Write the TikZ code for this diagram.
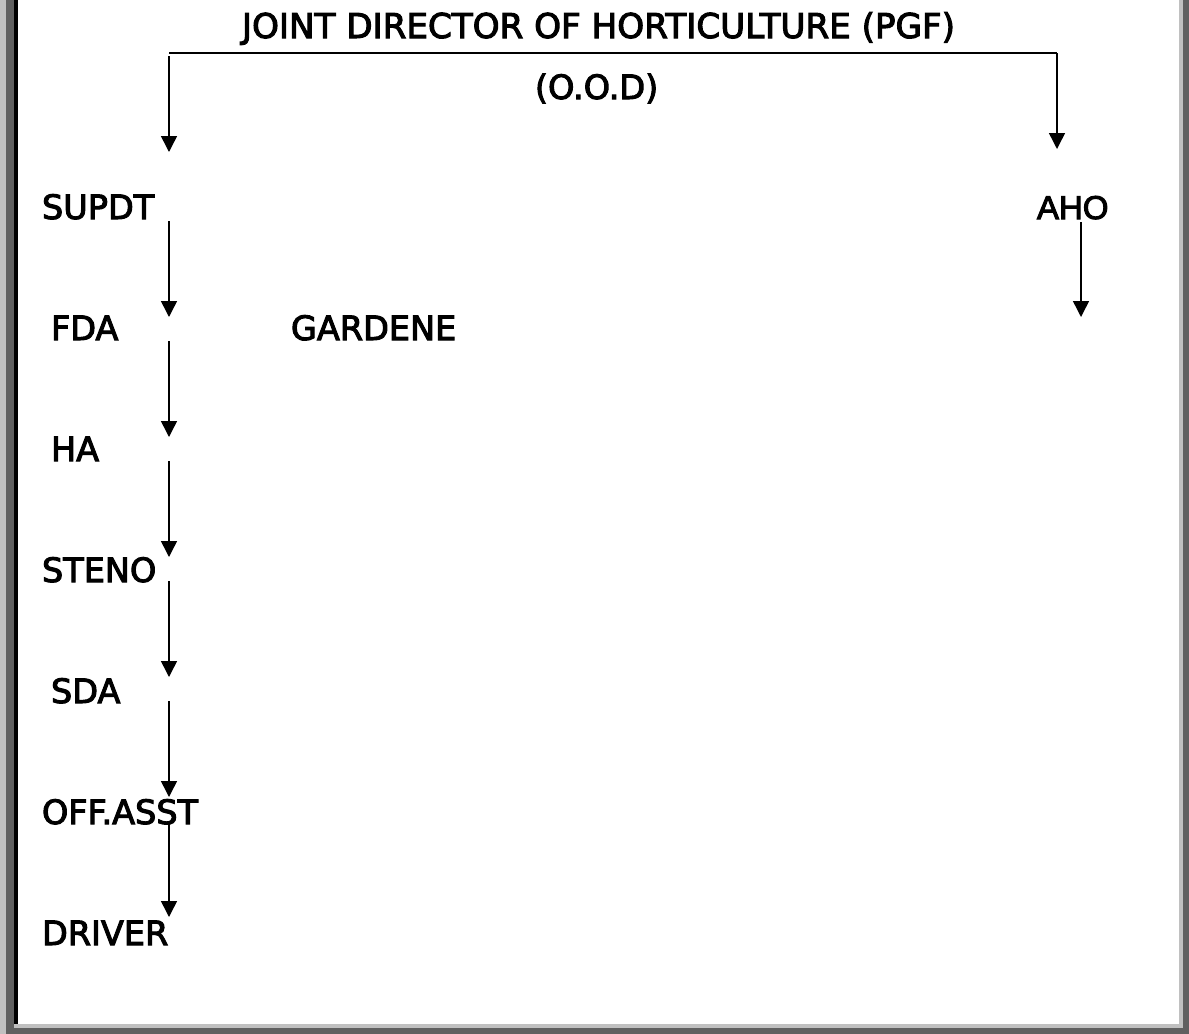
\documentclass[tikz,border=0pt]{standalone}
\usepackage{fontspec}
\setmainfont[FakeBold=3]{DejaVu Sans}
\newfontfamily\arialfont[FakeBold=3]{Liberation Sans}
\usetikzlibrary{arrows.meta}
\definecolor{lgray}{HTML}{C0C0C0}
\definecolor{dgray}{HTML}{606060}
\tikzset{
  lbl/.style={anchor=base west, inner sep=0pt, outer sep=0pt, font=\fontsize{33.5bp}{36bp}\selectfont},
  conn/.style={line width=1.5bp, -{Triangle[width=16bp,length=16bp]}},
  plain/.style={line width=1.8bp}
}
\begin{document}
\begin{tikzpicture}[x=1bp,y=-1bp]
\useasboundingbox (0,0) rectangle (1189,1034);
% frame
\fill[lgray] (0,0) rectangle (6,1034);
\fill[dgray] (6,0) rectangle (14,1034);
\fill[black] (14,0) rectangle (18,1024);
\fill[lgray] (14,1024) rectangle (1183,1028);
\fill[lgray] (1179,0) rectangle (1183,1028);
\fill[dgray] (6,1028) rectangle (1189,1034);
\fill[dgray] (1183,0) rectangle (1189,1034);
% texts
\node[lbl] (jd) at (242,38) {\resizebox{713bp}{!}{JOINT DIRECTOR OF HORTICULTURE (PGF)}};
\node[lbl] (ood) at (535,99) {(O.O.D)};
\node[lbl] (supdt) at (42,219) {SUPDT};
\node[lbl, font=\arialfont\fontsize{33bp}{36bp}\selectfont] (aho) at (1037,219) {AHO};
\node[lbl] (fda) at (51,340) {FDA};
\node[lbl] (gar) at (291,340) {GARDENE};
\node[lbl] (ha) at (51,461) {HA};
\node[lbl] (steno) at (42,582) {STENO};
\node[lbl] (sda) at (51,703) {SDA};
\node[lbl] (off) at (42,824) {OFF.ASST};
\node[lbl] (drv) at (42,945) {DRIVER};
% connector coordinates
\coordinate (hl) at (169,53);
\coordinate (hr) at (1057,53);
\coordinate (l0) at (169,56);
\coordinate (t0) at (169,152);
\coordinate (r1) at (1057,149);
\coordinate (a0) at (1081,222);
\coordinate (a1) at (1081,317);
\foreach \k in {0,...,5}{
  \coordinate (s\k) at (169,{221+120*\k});
  \coordinate (e\k) at (169,{317+120*\k});
}
\draw[plain] (hl) -- (hr);
\draw[conn] (hr) -- (r1);
\draw[conn] (l0) -- (t0);
\draw[conn] (a0) -- (a1);
\foreach \k in {0,...,5}{
  \draw[conn] (s\k) -- (e\k);
}
\end{tikzpicture}
\end{document}
